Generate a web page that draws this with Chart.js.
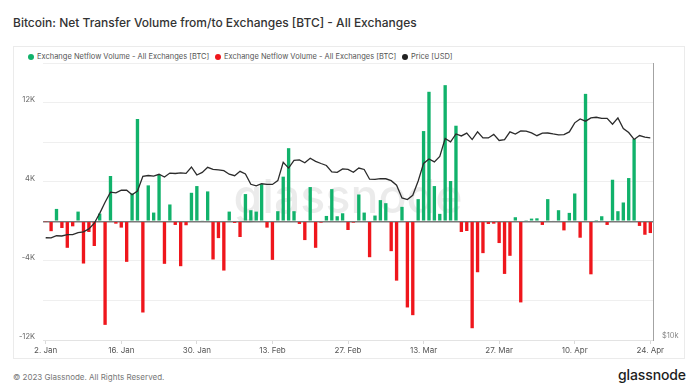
<!DOCTYPE html>
<html>
<head>
<meta charset="utf-8">
<script src="https://cdn.jsdelivr.net/npm/chart.js@4.4.1/dist/chart.umd.min.js"></script>
<style>
body { margin: 0; background: #fff; font-family: Inter, "Noto Sans", sans-serif; }
#wrap { position: relative; width: 699px; height: 392px; overflow: hidden; }
#title { position: absolute; left: 13px; top: 15px; font-size: 12px; line-height: 16px; color: #333; font-weight: 500; white-space: nowrap; }
#box { position: absolute; left: 13px; top: 46px; width: 672px; height: 313px; border: 1px solid #ebebeb; box-sizing: border-box; }
.lg { position: absolute; top: 52px; font-size: 7.5px; line-height: 10px; color: #555; white-space: nowrap; }
.lg i { position: absolute; left: -9px; top: 2px; width: 6px; height: 6px; border-radius: 50%; }
#foot { position: absolute; left: 13px; top: 371px; font-size: 8px; line-height: 12px; color: #777; white-space: nowrap; }
#logo { position: absolute; right: 13px; top: 366px; font-size: 14px; line-height: 18px; color: #1d1d1d; font-weight: 500; letter-spacing: -0.1px; }
canvas { position: absolute; left: 0; top: 0; }
</style>
</head>
<body>
<div id="wrap">
  <div id="title">Bitcoin: Net Transfer Volume from/to Exchanges [BTC] - All Exchanges</div>
  <div id="box"></div>
  <div class="lg" style="left:37px"><i style="background:#11b26b"></i>Exchange Netflow Volume - All Exchanges [BTC]</div>
  <div class="lg" style="left:224px"><i style="background:#ef161c"></i>Exchange Netflow Volume - All Exchanges [BTC]</div>
  <div class="lg" style="left:411px"><i style="background:#222"></i>Price [USD]</div>
  <div id="foot">© 2023 Glassnode. All Rights Reserved.</div>
  <div id="logo">glassnode</div>
  <canvas id="chart" width="699" height="392"></canvas>
</div>
<script>
// daily values, 2 Jan 2023 .. 24 Apr 2023
var netflow = [
  -40, -1000, 1250, -680, -2680, -510, 980, -4270, -1080, -2500,
  780, -10470, 4580, -240, -640, -4100, 2810, 10340, -9220, 3630,
  880, 4710, -4300, 1700, -370, -4540, -400, 2880, 3560, 60,
  3020, -3860, -1700, -4980, 980, -170, -1590, 2750, 1120, 980,
  3760, -640, -3900, 1020, 4510, 7390, 1020, -270, -1900, 3460,
  -2680, -140, 540, 3250, 510, 810, -880, -140, 2710, 880,
  -3630, 580, 2140, 1830, -3020, -6000, 1460, -8710, -9490, 2240,
  9120, 13090, 3560, 750, 13760, 4070, 9660, -1080, -980, -10810,
  -5150, -3220, -270, -240, -2200, -5320, -3490, 410, -8200, 40,
  270, 300, -370, 2240, 70, 1120, -920, 850, 2810, -1660,
  12880, -5360, 30, 510, -370, 4200, 1020, 1900, 4370, 8310,
  -470, -1360, -1190
];
var price = [
  16680, 16670, 16850, 16830, 16950, 16945, 17120, 17180, 17440, 17940,
  18850, 19930, 20950, 20880, 21170, 21160, 20690, 21080, 22680, 22780,
  22710, 22920, 22610, 23060, 23010, 23080, 23030, 23770, 22840, 23130,
  23730, 23490, 23430, 23330, 22930, 22760, 23260, 22960, 21800, 21630,
  21860, 21790, 21780, 22200, 24330, 23640, 24570, 24630, 24280, 24840,
  24450, 24190, 23950, 23200, 23150, 23550, 23490, 23150, 23650, 23480,
  22360, 22350, 22430, 22410, 22200, 21700, 20360, 20190, 20630, 22160,
  24200, 24750, 24380, 25050, 27420, 26970, 28040, 27770, 28170, 27270,
  28350, 27490, 27490, 27990, 27140, 27270, 28350, 28030, 28480, 28450,
  28200, 27800, 28170, 28180, 28040, 27920, 27950, 28330, 29650, 30240,
  29900, 30390, 30490, 30320, 30320, 29450, 30400, 28820, 28250, 27280,
  27820, 27590, 27510
];
var tickLabels = ['2. Jan', '16. Jan', '30. Jan', '13. Feb', '27. Feb', '13. Mar', '27. Mar', '10. Apr', '24. Apr'];
var leftLabels = [12000, 4000, -4000, -12000];

var days = [];
var d = new Date(Date.UTC(2023, 0, 2));
for (var k = 0; k < netflow.length; k++) {
  days.push(d.toISOString().slice(0, 10));
  d.setUTCDate(d.getUTCDate() + 1);
}

var green = '#11b26b', red = '#ef161c';

var watermark = {
  id: 'watermark',
  beforeDatasetsDraw: function(chart) {
    var ctx = chart.ctx, a = chart.chartArea;
    ctx.save();
    ctx.font = '500 46px Inter';
    var w = ctx.measureText('glassnode').width;
    ctx.font = '500 ' + (46 * 229 / w).toFixed(1) + 'px Inter';
    ctx.fillStyle = 'rgba(0,0,0,0.08)';
    ctx.textAlign = 'center';
    ctx.textBaseline = 'alphabetic';
    ctx.fillText('glassnode', (a.left + a.right) / 2, 213);
    ctx.restore();
  }
};

new Chart(document.getElementById('chart'), {
  type: 'bar',
  data: {
    labels: days,
    datasets: [{
      type: 'line',
      data: price,
      yAxisID: 'y1',
      borderColor: '#2b2b2b',
      borderWidth: 1.3,
      pointRadius: 0,
      tension: 0,
      order: 0
    }, {
      data: netflow.map(function(v) { return v > 0 ? v : null; }),
      backgroundColor: green,
      yAxisID: 'y',
      grouped: false,
      barPercentage: 0.62,
      categoryPercentage: 1,
      order: 1
    }, {
      data: netflow.map(function(v) { return v < 0 ? v : null; }),
      backgroundColor: red,
      yAxisID: 'y',
      grouped: false,
      barPercentage: 0.62,
      categoryPercentage: 1,
      order: 1
    }]
  },
  options: {
    responsive: false,
    animation: false,
    layout: { padding: { top: 63, left: 0, right: 0, bottom: 0 } },
    plugins: { legend: { display: false }, tooltip: { enabled: false } },
    scales: {
      x: {
        offset: true,
        grid: { offset: false, drawOnChartArea: false, tickLength: 4, color: '#dadada' },
        border: { color: '#e3e3e3' },
        ticks: {
          autoSkip: false, maxRotation: 0, padding: 2,
          color: '#555', font: { family: 'Inter', size: 8 },
          callback: function(v, i) { return i % 14 === 0 ? tickLabels[i / 14] : null; }
        },
        afterFit: function(s) { s.height = 52; }
      },
      y: {
        position: 'left',
        min: -12000, max: 16000,
        grid: {
          drawTicks: false,
          color: function(c) { return c.tick.value === 0 ? '#7a7a7a' : '#efefef'; },
          lineWidth: function(c) { return c.tick.value === 0 ? 1.5 : 1; }
        },
        border: { display: false },
        ticks: {
          stepSize: 4000, padding: 8, labelOffset: -3,
          color: '#666', font: { family: 'Inter', size: 7.5 },
          callback: function(v) { return leftLabels.indexOf(v) >= 0 ? (v / 1000) + 'K' : ''; }
        },
        afterFit: function(s) { s.width = 43; }
      },
      y1: {
        type: 'logarithmic',
        position: 'right',
        min: 10000, max: 40000,
        grid: { drawOnChartArea: false, drawTicks: false },
        border: { color: '#a3a3a3', width: 1 },
        ticks: {
          padding: 9, labelOffset: -4,
          color: '#888', font: { family: 'Inter', size: 7.5 },
          callback: function(v) { return v === 10000 ? '$10k' : null; }
        },
        afterFit: function(s) { s.width = 46; }
      }
    }
  },
  plugins: [watermark]
});
</script>
</body>
</html>
